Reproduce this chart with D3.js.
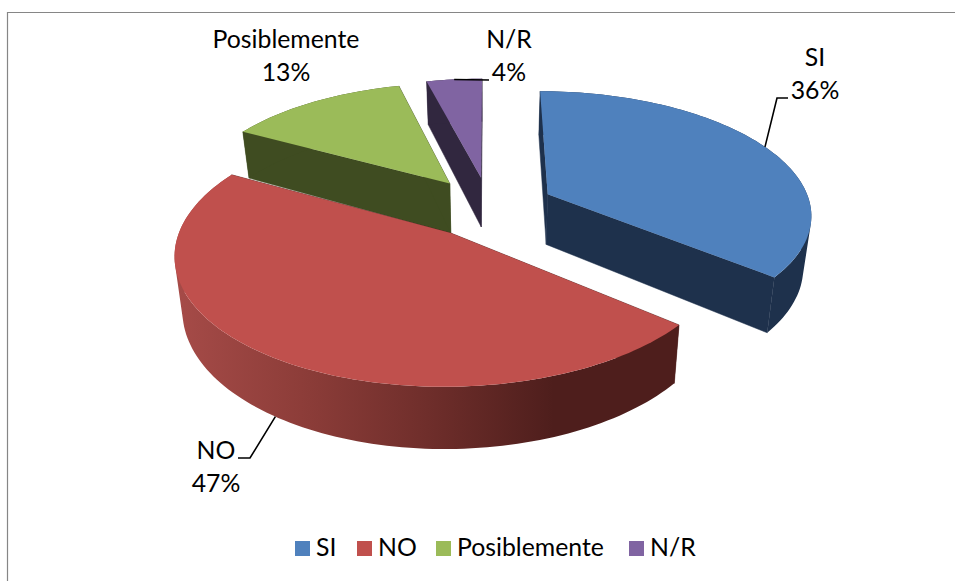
<!DOCTYPE html>
<html>
<head>
<meta charset="utf-8">
<script src="https://cdn.jsdelivr.net/npm/d3@7"></script>
<style>
html,body{margin:0;padding:0;background:#fff;overflow:hidden}
text{font-family:Lato,"Open Sans",sans-serif;fill:#000}
</style>
</head>
<body>
<svg id="chart" width="955" height="581"></svg>
<script>
// ---- data ----
const categories = ["SI", "NO", "Posiblemente", "N/R"];
const percentages = [36, 47, 13, 4];
const topColors = ["#4f81bd", "#c0504d", "#9bbb59", "#8064a2"];
const wallColors = ["#1e314c", "#4e1e1c", "#3f4c21", "#31273f"];

// ---- layout ----
const W = 955, H = 581;
const cx = 489, cy = 207;      // projected pie centre
const rx = 263.5, ry = 122;    // projected radii
const persp = 0.15;            // perspective strength
const explode = 0.25;          // explosion, in radii
const depth = 51;              // extrusion
const floorScale = 0.975;      // horizontal convergence of the bottom face
const fontSize = 24.8;

const svg = d3.select("#chart");

// frame
svg.append("path").attr("d", `M7.5,${H}V12.5H${W}`).attr("fill", "none")
  .attr("stroke", "#868686").attr("stroke-width", 1.2);

// gradient of the NO outer wall
const grad = svg.append("defs").append("linearGradient").attr("id", "noWall")
  .attr("gradientUnits", "userSpaceOnUse").attr("x1", 175).attr("x2", 680).attr("y1", 0).attr("y2", 0);
[[0, "#a64b48"], [0.25, "#8d3d39"], [0.5, "#6f2e2b"], [0.75, "#4e1e1c"], [1, "#4e1e1c"]]
  .forEach(([o, c]) => grad.append("stop").attr("offset", o).attr("stop-color", c));

// pie angles via d3
const pie = d3.pie().sort(null).value(d => d)(percentages);
const slices = pie.map((p, i) => {
  const mid = (p.startAngle + p.endAngle) / 2;
  return { i, a0: p.startAngle, a1: p.endAngle, mid,
           ox: explode * Math.sin(mid), oy: -explode * Math.cos(mid) };
});

// perspective projection of a disc point (u right, v towards viewer)
function proj(u, v, low) {
  const s = 1 / (1 - persp * v);
  let x = cx + rx * u * s;
  let y = cy + ry * v * s;
  if (low) { x = cx + (x - cx) * floorScale; y += depth * s; }
  return [x, y];
}
const rim = (sl, a, low) => proj(sl.ox + Math.sin(a), sl.oy - Math.cos(a), low);
const apex = (sl, low) => proj(sl.ox, sl.oy, low);
const line = d3.line();

function arcAngles(a0, a1) {
  const n = Math.max(2, Math.ceil((a1 - a0) * 40));
  return d3.range(n + 1).map(k => a0 + (a1 - a0) * k / n);
}

// painter's order: back slices first
const order = [3, 2, 0, 1];
order.forEach(idx => {
  const sl = slices[idx];
  const g = svg.append("g").attr("class", "slice-" + idx);
  const wall = wallColors[idx];
  // radial walls
  [sl.a0, sl.a1].forEach(a => {
    g.append("path").attr("fill", wall).attr("stroke", wall).attr("stroke-width", 0.5)
      .attr("d", line([apex(sl), rim(sl, a), rim(sl, a, true), apex(sl, true)]) + "Z");
  });
  // outer wall: union of small quads, all wound the same way so overlaps never cancel
  const angs = arcAngles(sl.a0, sl.a1);
  const quads = d3.pairs(angs).map(([a, b]) => {
    const q = [rim(sl, a), rim(sl, b), rim(sl, b, true), rim(sl, a, true)];
    if (d3.polygonArea(q) < 0) q.reverse();
    return line(q) + "Z";
  }).join("");
  g.append("path").attr("fill", idx === 1 ? "url(#noWall)" : wall).attr("d", quads);
  // top face
  g.append("path").attr("fill", topColors[idx])
    .attr("d", line([apex(sl)].concat(angs.map(a => rim(sl, a)))) + "Z");
});

// data labels (centre x, first baseline) and leader elbows
const labelPos = [
  { x: 815, y: 66, leader: p => [p, [777, 98], [788, 98]] },
  { x: 216, y: 459, low: true, leader: p => [p, [250, 458], [238, 458]] },
  { x: 286, y: 48 },
  { x: 509, y: 48, leader: p => [p, [489, 80]] }
];
const gapY = 33;
labelPos.forEach((lp, i) => {
  if (lp.leader) {
    const p = rim(slices[i], slices[i].mid, !!lp.low);
    svg.append("path").attr("fill", "none").attr("stroke", "#000").attr("stroke-width", 1.6)
      .attr("d", line(lp.leader(p)));
  }
  const t = svg.append("text").attr("text-anchor", "middle").attr("font-size", fontSize);
  t.append("tspan").attr("x", lp.x).attr("y", lp.y).text(categories[i]);
  t.append("tspan").attr("x", lp.x).attr("y", lp.y + gapY).text(percentages[i] + "%");
});

// legend
const legendX = [295, 357, 436, 629];
const legendY = 541, box = 15;
categories.forEach((c, i) => {
  svg.append("rect").attr("x", legendX[i]).attr("y", legendY).attr("width", box).attr("height", box).attr("fill", topColors[i]);
  svg.append("text").attr("x", legendX[i] + box + 6).attr("y", legendY + 15).attr("font-size", fontSize).text(c);
});
</script>
</body>
</html>
